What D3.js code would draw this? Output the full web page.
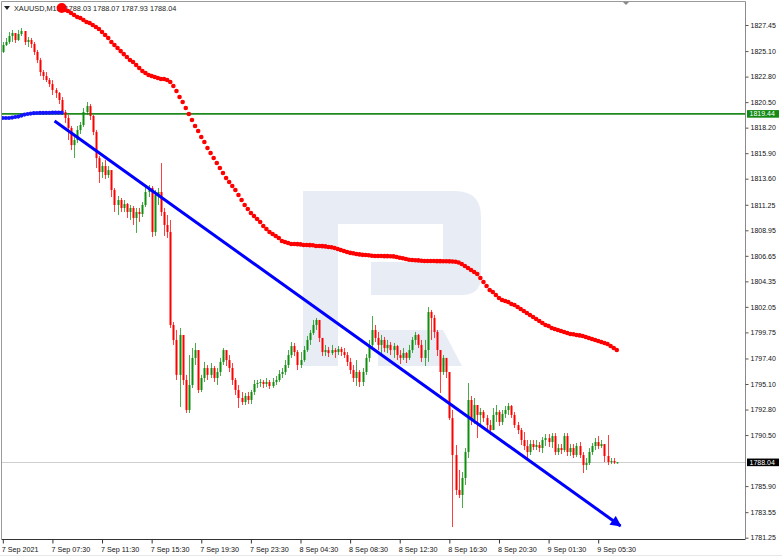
<!DOCTYPE html>
<html><head><meta charset="utf-8">
<script src="https://cdn.jsdelivr.net/npm/d3@7"></script>
<style>html,body{margin:0;padding:0;background:#fff;overflow:hidden}</style>
</head><body><svg id="c" width="782" height="557"></svg>
<script>
// ---------- DATA ----------
const xTickLabels = ["7 Sep 2021","7 Sep 07:30","7 Sep 11:30","7 Sep 15:30","7 Sep 19:30","7 Sep 23:30","8 Sep 04:30","8 Sep 08:30","8 Sep 12:30","8 Sep 16:30","8 Sep 20:30","9 Sep 01:30","9 Sep 05:30"];
const xTickBars = [0,16,32,48,64,80,96,112,128,144,160,176,192];
const yTickValues = [1827.45,1825.10,1822.80,1820.50,1818.20,1815.90,1813.60,1811.25,1808.95,1806.65,1804.35,1802.05,1799.75,1797.40,1795.10,1792.80,1790.50,1785.90,1783.55,1781.25];
const titleText = "XAUUSD,M15  1788.03 1788.07 1787.93 1788.04";
const firstOpen = 1825.02;
const closes = [1825.65,1825.92,1826.46,1826.73,1826.10,1826.64,1826.91,1825.92,1826.10,1825.74,
1825.02,1824.29,1823.21,1822.85,1822.49,1822.13,1821.59,1821.32,1820.69,1819.61,
1819.07,1818.17,1816.63,1817.08,1817.99,1818.44,1819.61,1820.15,1819.25,1817.81,
1815.46,1814.20,1814.74,1813.93,1814.38,1812.58,1811.23,1811.68,1810.96,1811.32,
1810.60,1810.96,1810.06,1810.60,1810.42,1811.23,1812.40,1812.76,1808.80,1812.13,
1812.40,1810.60,1809.43,1808.80,1800.42,1799.07,1795.92,1799.52,1795.46,1792.76,
1795.01,1797.45,1798.16,1794.56,1795.64,1796.54,1795.92,1796.54,1795.64,1796.18,
1797.09,1798.16,1797.26,1796.54,1795.46,1794.56,1793.84,1793.48,1794.02,1793.66,
1794.38,1795.10,1795.19,1795.28,1795.10,1795.28,1794.92,1795.28,1795.46,1796.00,
1796.18,1796.81,1797.71,1798.52,1797.98,1796.81,1797.26,1798.16,1799.07,1799.70,
1800.42,1800.87,1799.25,1797.98,1798.16,1797.89,1798.16,1797.98,1798.25,1797.98,
1797.71,1797.09,1796.36,1795.64,1796.18,1795.28,1796.18,1797.45,1798.62,1799.97,
1799.25,1798.62,1799.07,1798.34,1798.62,1798.16,1798.52,1797.71,1797.45,1797.89,
1797.45,1798.16,1799.07,1799.52,1798.62,1797.45,1798.16,1801.59,1801.05,1799.79,
1798.16,1796.18,1797.45,1796.18,1792.03,1788.70,1785.55,1785.10,1786.63,1788.97,
1793.66,1791.86,1793.21,1792.31,1792.58,1792.03,1791.40,1790.95,1792.31,1792.58,
1791.68,1792.40,1792.76,1793.12,1792.31,1791.40,1790.95,1790.05,1789.51,1788.97,
1789.69,1789.42,1789.60,1789.33,1790.05,1790.23,1789.87,1790.41,1788.97,1789.33,
1789.15,1790.41,1788.97,1789.33,1788.70,1789.51,1788.70,1787.80,1787.98,1788.97,
1789.51,1789.87,1789.51,1789.69,1788.61,1788.07,1788.16,1788.03,1788.04];
const highs = [1825.92,1826.28,1826.82,1827.00,1826.73,1827.00,1827.18,1826.91,1826.37,1826.28,
1825.92,1825.20,1824.48,1823.39,1823.21,1822.67,1822.49,1821.77,1821.41,1820.96,
1819.79,1819.34,1818.35,1817.44,1818.35,1818.71,1819.97,1820.51,1820.33,1819.34,
1817.99,1815.64,1815.10,1815.28,1814.74,1814.20,1812.76,1812.04,1811.86,1811.68,
1811.41,1811.23,1811.14,1810.96,1810.96,1811.50,1812.94,1813.03,1812.94,1812.58,
1812.76,1815.01,1810.96,1810.33,1809.88,1800.69,1799.97,1800.15,1799.07,1795.92,
1797.71,1798.34,1798.80,1798.16,1795.92,1797.09,1796.81,1796.99,1796.72,1796.54,
1797.45,1798.34,1798.16,1797.71,1796.99,1795.64,1795.01,1794.38,1794.29,1794.38,
1794.56,1795.46,1795.46,1795.55,1795.46,1795.64,1795.46,1795.64,1795.82,1796.36,
1796.54,1797.26,1798.16,1798.88,1798.80,1798.16,1797.98,1798.52,1799.43,1799.97,
1800.87,1801.05,1800.87,1799.25,1798.62,1798.44,1798.62,1798.34,1798.52,1798.44,
1798.34,1797.98,1797.45,1796.81,1797.26,1796.36,1796.54,1797.80,1799.07,1801.23,
1800.42,1799.79,1799.52,1799.34,1799.07,1798.88,1798.80,1798.62,1798.16,1798.34,
1797.98,1798.62,1799.34,1799.79,1799.61,1799.07,1799.07,1802.04,1801.77,1801.32,
1799.97,1797.98,1797.71,1797.26,1796.18,1792.76,1789.60,1787.35,1787.17,1789.33,
1795.19,1794.02,1793.84,1792.94,1792.94,1792.76,1792.31,1791.86,1792.94,1793.21,
1792.76,1792.76,1793.12,1793.39,1793.21,1792.58,1791.68,1791.14,1790.77,1790.05,
1790.05,1790.05,1790.05,1789.87,1790.32,1790.59,1790.59,1790.68,1790.68,1789.69,
1789.69,1790.68,1790.68,1789.69,1789.69,1789.78,1789.87,1788.97,1788.43,1789.33,
1789.78,1790.23,1790.41,1790.05,1789.42,1790.50,1788.43,1788.43,1788.07];
const lows = [1824.93,1825.56,1825.74,1825.92,1825.83,1826.01,1826.46,1825.65,1825.47,1825.38,
1824.75,1824.02,1822.85,1822.49,1822.31,1821.86,1821.14,1820.87,1820.33,1819.34,
1818.62,1817.08,1816.18,1815.46,1816.81,1817.63,1818.26,1819.34,1818.89,1817.53,
1814.56,1813.21,1813.66,1813.57,1813.66,1811.95,1810.60,1810.33,1810.60,1810.60,
1810.06,1809.88,1809.43,1808.71,1809.70,1810.15,1811.05,1811.95,1808.35,1808.44,
1811.23,1810.24,1808.44,1808.26,1800.15,1798.62,1795.46,1793.03,1795.01,1792.49,
1792.49,1794.74,1796.81,1794.29,1794.38,1795.28,1795.46,1795.64,1795.28,1795.01,
1795.82,1796.81,1796.72,1796.18,1795.01,1794.11,1792.94,1793.21,1793.21,1793.30,
1793.30,1794.11,1794.74,1794.83,1794.74,1794.83,1794.65,1794.74,1795.01,1795.28,
1795.64,1795.92,1796.54,1797.45,1797.62,1796.36,1796.54,1797.09,1797.98,1798.62,
1799.52,1799.97,1798.88,1797.62,1797.62,1797.53,1797.71,1797.45,1797.71,1797.62,
1797.45,1796.72,1796.00,1795.28,1794.92,1794.83,1794.92,1795.92,1797.09,1798.34,
1798.88,1798.16,1797.62,1797.98,1797.89,1797.71,1797.45,1797.26,1796.90,1797.26,
1796.99,1797.26,1797.89,1798.62,1798.34,1797.09,1796.72,1797.09,1799.07,1799.25,
1797.62,1794.29,1795.92,1795.64,1791.86,1782.21,1785.10,1784.83,1783.93,1786.00,
1788.43,1791.40,1791.50,1790.23,1791.40,1791.68,1790.77,1790.50,1790.95,1791.68,
1791.32,1791.40,1792.04,1792.31,1792.04,1791.14,1790.59,1789.60,1789.15,1788.43,
1788.70,1789.15,1789.15,1788.97,1788.88,1789.51,1789.42,1789.33,1788.70,1788.70,
1788.79,1788.97,1788.61,1788.61,1788.43,1788.52,1788.43,1787.08,1787.35,1787.80,
1788.70,1789.15,1789.24,1789.33,1788.07,1787.80,1787.89,1787.89,1787.93];
const redMAStart = 19;
const redMA = [1828.98,1828.80,1828.71,1828.53,1828.35,1828.17,1828.08,1827.90,1827.72,1827.63,
1827.45,1827.27,1827.09,1826.82,1826.55,1826.28,1825.92,1825.65,1825.38,1825.10,
1824.83,1824.56,1824.29,1824.11,1823.84,1823.57,1823.30,1823.12,1822.94,1822.85,
1822.76,1822.67,1822.58,1822.58,1822.49,1822.31,1821.95,1821.50,1820.96,1820.51,
1819.97,1819.43,1818.89,1818.35,1817.90,1817.36,1816.91,1816.37,1815.91,1815.46,
1815.01,1814.56,1814.11,1813.66,1813.30,1812.94,1812.58,1812.13,1811.68,1811.23,
1810.87,1810.51,1810.24,1809.97,1809.70,1809.34,1809.07,1808.80,1808.62,1808.44,
1808.26,1807.99,1807.90,1807.81,1807.72,1807.72,1807.70,1807.68,1807.63,1807.62,
1807.61,1807.60,1807.54,1807.53,1807.52,1807.50,1807.45,1807.42,1807.36,1807.27,
1807.18,1807.09,1807.00,1806.92,1806.88,1806.81,1806.78,1806.74,1806.72,1806.70,
1806.66,1806.64,1806.63,1806.63,1806.62,1806.62,1806.61,1806.60,1806.54,1806.47,
1806.43,1806.36,1806.29,1806.27,1806.25,1806.24,1806.20,1806.19,1806.18,1806.18,
1806.18,1806.17,1806.17,1806.16,1806.16,1806.15,1806.14,1806.12,1806.05,1805.91,
1805.73,1805.55,1805.37,1805.19,1805.01,1804.65,1804.29,1803.93,1803.57,1803.39,
1803.12,1802.85,1802.67,1802.58,1802.49,1802.31,1802.22,1802.04,1801.86,1801.68,
1801.50,1801.32,1801.14,1800.96,1800.78,1800.60,1800.42,1800.33,1800.15,1800.06,
1799.97,1799.88,1799.79,1799.70,1799.61,1799.58,1799.52,1799.48,1799.43,1799.34,
1799.25,1799.16,1799.07,1798.98,1798.89,1798.80,1798.71,1798.53,1798.35,1798.17];
const blueMA = [1819.07,1819.07,1819.07,1819.11,1819.16,1819.20,1819.29,1819.38,1819.43,1819.47,
1819.50,1819.52,1819.53,1819.53,1819.54,1819.54,1819.55,1819.55,1819.55,1819.55];
const trendLine = [[16.7,1818.80],[199.2,1782.31]];
const levelPrice = 1819.44;
const lastPrice = 1788.04;

// ---------- LAYOUT ----------
const svg = d3.select("#c");
const FONT = "'Liberation Sans', Arial, sans-serif";
const plot = {left:1.5, right:745.5, top:1.5, bottom:539};
const x = d3.scaleLinear().domain([0,192]).range([2.8,598.2]);
const y = d3.scaleLinear().domain([1781.25,1827.45]).range([537.7,25]);
const GREEN = "#0f8f0f", RED = "#ff0000";

svg.append("rect").attr("width",782).attr("height",557).attr("fill","#fff");

// watermark logo
svg.append("path")
  .attr("d","M303,191 H455 Q481,191 481,217 V276 Q481,295 462,295 H371 V262 H443 V224 H338 V366 H303 Z M378,330 H443 L462,366 H378 Z")
  .attr("fill","#e8edf5").attr("fill-rule","evenodd");

const clip = svg.append("defs").append("clipPath").attr("id","pc")
  .append("rect").attr("x",plot.left).attr("y",plot.top)
  .attr("width",plot.right-plot.left).attr("height",plot.bottom-plot.top);
const g = svg.append("g").attr("clip-path","url(#pc)");

// last price line
g.append("line").attr("x1",plot.left).attr("x2",plot.right)
  .attr("y1",Math.round(y(lastPrice))+0.5).attr("y2",Math.round(y(lastPrice))+0.5)
  .attr("stroke","#cfcfcf").attr("stroke-width",1);

// level line
g.append("line").attr("x1",plot.left).attr("x2",plot.right)
  .attr("y1",y(levelPrice)).attr("y2",y(levelPrice))
  .attr("stroke","#1f8a1f").attr("stroke-width",1.6);

// candles
const bars = closes.map((c,i)=>({i, o: i===0?firstOpen:closes[i-1], c, h:highs[i], l:lows[i]}));
const cg = g.append("g");
bars.forEach(b=>{
  const col = b.c >= b.o ? GREEN : RED;
  const cx = Math.round(x(b.i));
  cg.append("line").attr("x1",cx+0.5).attr("x2",cx+0.5)
    .attr("y1",y(b.h)).attr("y2",y(b.l)).attr("stroke",col).attr("stroke-width",1).attr("opacity",0.75);
  const top = y(Math.max(b.o,b.c)), bot = y(Math.min(b.o,b.c));
  cg.append("rect").attr("x",cx-0.5).attr("width",2)
    .attr("y",top).attr("height",Math.max(1,bot-top)).attr("fill",col);
});

// title
svg.append("path").attr("d","M4,6 L10,6 L7,10 Z").attr("fill","#222");
svg.append("text").attr("x",14).attr("y",11).text(titleText)
  .attr("font-family",FONT).attr("font-size",7.3).attr("fill","#222")
  .attr("xml:space","preserve").style("white-space","pre");

// blue MA
g.append("g").selectAll("circle").data(blueMA).join("circle")
  .attr("cx",(d,i)=>x(i)).attr("cy",d=>y(d)).attr("r",2.1).attr("fill","#1414ff");

// red MA
svg.append("g").selectAll("circle").data(redMA).join("circle")
  .attr("cx",(d,i)=>x(redMAStart+i)).attr("cy",d=>y(d))
  .attr("r",(d,i)=> i===0 ? 5 : 2.3).attr("fill","#ff0000");

// trend line with arrow
const defs = svg.select("defs");
defs.append("marker").attr("id","arr").attr("viewBox","0 0 10 10")
  .attr("refX",9).attr("refY",5).attr("markerWidth",4.2).attr("markerHeight",3.6)
  .attr("markerUnits","strokeWidth").attr("orient","auto")
  .append("path").attr("d","M0,0 L10,5 L0,10 Z").attr("fill","#0000ff");
svg.append("line")
  .attr("x1",x(trendLine[0][0])).attr("y1",y(trendLine[0][1]))
  .attr("x2",x(trendLine[1][0])).attr("y2",y(trendLine[1][1]))
  .attr("stroke","#0000ff").attr("stroke-width",3).attr("marker-end","url(#arr)");

// frame
const fr = svg.append("g").attr("fill","none");
fr.append("line").attr("x1",plot.left).attr("x2",plot.right).attr("y1",plot.top).attr("y2",plot.top).attr("stroke","#9a9a9a");
fr.append("line").attr("x1",plot.left).attr("x2",plot.left).attr("y1",plot.top).attr("y2",plot.bottom).attr("stroke","#9a9a9a");
fr.append("line").attr("x1",plot.right).attr("x2",plot.right).attr("y1",plot.top).attr("y2",plot.bottom).attr("stroke","#8a8a8a");
fr.append("line").attr("x1",plot.left).attr("x2",plot.right).attr("y1",plot.bottom+0.5).attr("y2",plot.bottom+0.5).attr("stroke","#333");
svg.append("line").attr("x1",0).attr("x2",782).attr("y1",555.5).attr("y2",555.5).attr("stroke","#e8e8e8");
svg.append("path").attr("d","M623,2 L629,2 L626,5 Z").attr("fill","#888");

// y axis
const ya = svg.append("g").attr("transform",`translate(${plot.right},0)`)
  .call(d3.axisRight(y).tickValues(yTickValues).tickSize(3).tickPadding(2).tickFormat(d3.format(".2f")));
ya.select(".domain").remove();
ya.selectAll("line").attr("stroke","#555");
ya.selectAll("text").attr("font-family",FONT).attr("font-size",7).attr("fill","#111");

// x axis
const xa = svg.append("g").attr("transform",`translate(0,${plot.bottom+0.5})`)
  .call(d3.axisBottom(x).tickValues(xTickBars).tickSize(4).tickPadding(3).tickFormat((d,i)=>xTickLabels[i]));
xa.select(".domain").remove();
xa.selectAll("line").attr("stroke","#333");
xa.selectAll("text").attr("text-anchor","start").attr("dx",-1.5)
  .attr("font-family",FONT).attr("font-size",7.2).attr("fill","#111");

// price labels
function priceTag(p, bg){
  const yy = y(p);
  svg.append("rect").attr("x",747).attr("y",yy-3.8).attr("width",32).attr("height",7.6).attr("fill",bg);
  svg.append("text").attr("x",749.5).attr("y",yy).attr("dy","0.35em").text(d3.format(".2f")(p))
    .attr("font-family",FONT).attr("font-size",7).attr("fill","#fff");
}
priceTag(levelPrice,"#138a13");
priceTag(lastPrice,"#000");
</script></body></html>
